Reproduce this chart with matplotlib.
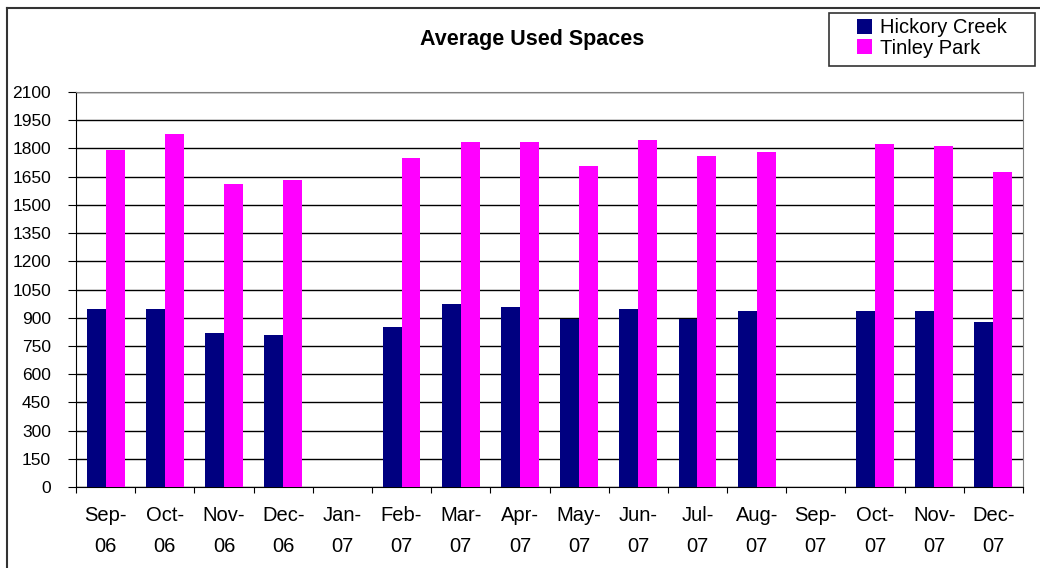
import matplotlib
matplotlib.use("Agg")
import matplotlib.pyplot as plt
import numpy as np
from matplotlib.lines import Line2D
from matplotlib.patches import Rectangle

plt.rcParams['font.family'] = ['Liberation Sans', 'DejaVu Sans']

categories = ["Sep-\n06", "Oct-\n06", "Nov-\n06", "Dec-\n06", "Jan-\n07", "Feb-\n07", "Mar-\n07",
              "Apr-\n07", "May-\n07", "Jun-\n07", "Jul-\n07", "Aug-\n07", "Sep-\n07", "Oct-\n07",
              "Nov-\n07", "Dec-\n07"]
hickory = [947, 947, 820, 808, 0, 852, 971, 958, 894, 947, 894, 937, 0, 937, 937, 875]
tinley = [1791, 1876, 1612, 1633, 0, 1749, 1834, 1834, 1708, 1846, 1761, 1782, 0, 1825, 1814, 1676]
yticks = list(range(0, 2101, 150))

W, H = 1040, 568
fig = plt.figure(figsize=(W/100, H/100), dpi=100)
ax = fig.add_axes([76/W, 81/H, 947/W, 395/H])

x = np.arange(len(categories))
w = 0.32
ax.bar(x - w/2, hickory, width=w, color="#000080", label="Hickory Creek", zorder=3)
ax.bar(x + w/2, tinley, width=w, color="#FF00FF", label="Tinley Park", zorder=3)

ax.set_xlim(-0.5, len(categories) - 0.5)
ax.set_ylim(0, 2100)
ax.set_yticks(yticks)
ax.set_yticklabels([str(v) for v in yticks], fontsize=12.5)
ax.yaxis.grid(True, color="black", linewidth=1, zorder=0)
ax.set_axisbelow(True)

ax.set_xticks(np.arange(-0.5, len(categories), 1.0))
ax.set_xticklabels([])
ax.set_xticks(x, minor=True)
ax.set_xticklabels(categories, minor=True, fontsize=14.5, linespacing=1.75)
ax.tick_params(axis="x", which="minor", length=0, pad=14)
ax.tick_params(axis="x", which="major", length=4, direction="out", color="black")
ax.tick_params(axis="y", length=6, direction="out", color="black", pad=12)

for s in ["left", "bottom"]:
    ax.spines[s].set_color("black")
ax.spines["right"].set_color("#808080")
ax.spines["top"].set_color("#808080")

fig.text(532/W, 1 - 40/H, "Average Used Spaces", ha="center", va="center",
         fontsize=15.5, fontweight="bold")

leg = fig.legend(loc="center left", bbox_to_anchor=(857/W, 1 - 38/H), fontsize=14.5,
                 frameon=False, borderpad=0,
                 handlelength=0.75, handleheight=0.75, handletextpad=0.4, labelspacing=0.05,
                 borderaxespad=0)
fig.add_artist(Rectangle((829/W, 1 - 66/H), (1035 - 829)/W, (66 - 13)/H,
                         transform=fig.transFigure, fill=False, edgecolor="#333333",
                         linewidth=1.2))

# outer chart border (top and left visible)
fig.add_artist(Line2D([7/W, 1.0], [1 - 8/H, 1 - 8/H], transform=fig.transFigure,
                      color="#333333", linewidth=1.5))
fig.add_artist(Line2D([7/W, 7/W], [0.0, 1 - 8/H], transform=fig.transFigure,
                      color="#333333", linewidth=1.5))

fig.savefig("out.png", dpi=100, facecolor="white")
